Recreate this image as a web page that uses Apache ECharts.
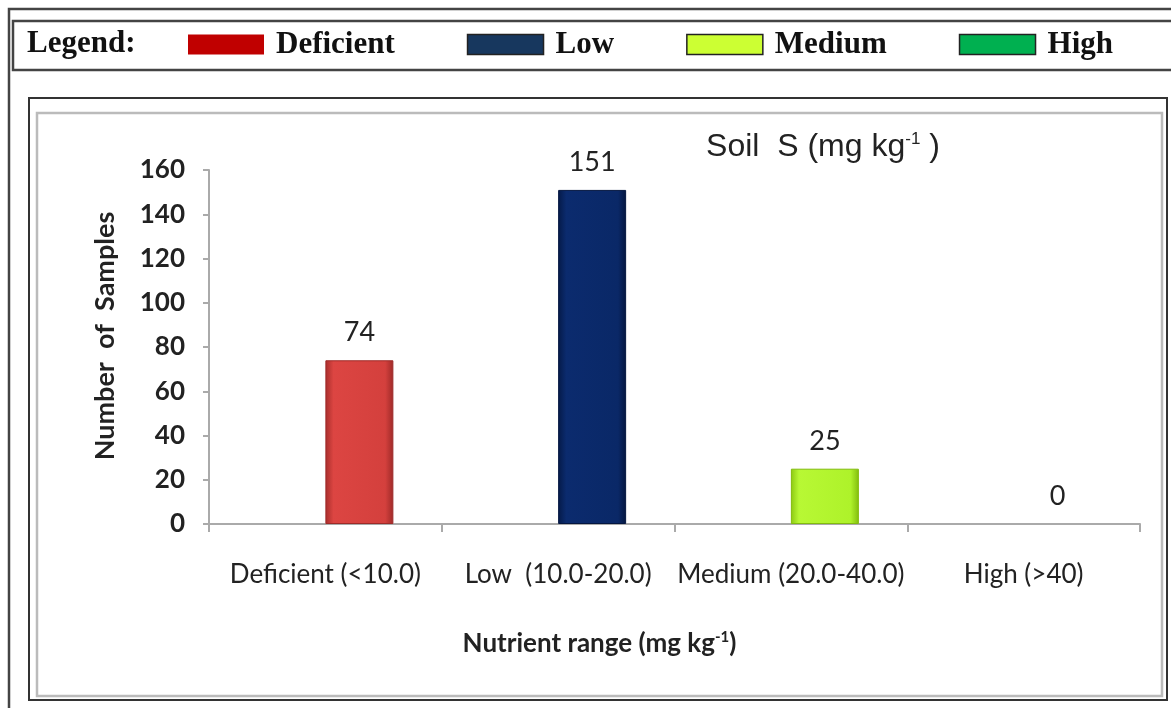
<!DOCTYPE html>
<html>
<head>
<meta charset="utf-8">
<script src="https://cdn.jsdelivr.net/npm/echarts@6/dist/echarts.min.js"></script>
<style>html,body{margin:0;padding:0;background:#fff}#c{width:1171px;height:708px}</style>
</head>
<body>
<div id="c"></div>
<script>
var categories = ['Deficient (<10.0)', 'Low  (10.0-20.0)', 'Medium (20.0-40.0)', 'High (>40)'];
var classNames = ['Deficient', 'Low', 'Medium', 'High'];
var sampleCounts = [74, 151, 25, 0];
var yTicks = [0, 20, 40, 60, 80, 100, 120, 140, 160];
var legendColors = ['#c00000', '#17375e', '#ccff33', '#00b050'];
var barColors = [
  ['#a82e2c', '#dc4542', '#d4403d', '#9e2a28'],
  ['#051a48', '#0b2b6e', '#0a2867', '#041640'],
  ['#8cc812', '#b8f834', '#aef22a', '#82bc0e'],
  ['#00903f', '#00b050', '#00a84c', '#008a3c']
];

var chart = echarts.init(document.getElementById('c'));

function grad(c) {
  return new echarts.graphic.LinearGradient(0, 0, 1, 0, [
    {offset: 0, color: c[0]}, {offset: 0.12, color: c[1]},
    {offset: 0.88, color: c[2]}, {offset: 1, color: c[3]}
  ]);
}

var series = [{
  name: 'placeholder', type: 'bar', barWidth: 68, barGap: '0%',
  data: categories.map(function () { return '-'; }), silent: true
}];
classNames.forEach(function (n, i) {
  series.push({
    name: n, type: 'bar', stack: 'total', barWidth: 68, barGap: '0%',
    data: categories.map(function (c, j) {
      if (j !== i) return '-';
      return {value: sampleCounts[j], itemStyle: {borderWidth: sampleCounts[j] > 0 ? 1 : 0}};
    }),
    itemStyle: {color: grad(barColors[i]), borderColor: barColors[i][3], borderWidth: 1},
    label: {show: true, position: 'top', distance: 14, fontFamily: 'Lato', fontSize: 27, color: '#222'}
  });
});

chart.setOption({
  animation: false,
  backgroundColor: '#fff',
  title: {
    text: '{a|Soil  S (mg kg}{s|-1}{a| )}',
    left: 818, top: 126, textAlign: 'center',
    textStyle: {fontWeight: 'normal', rich: {
      a: {fontFamily: 'Liberation Sans', fontWeight: 'normal', fontSize: 32, color: '#222'},
      s: {fontFamily: 'Liberation Sans', fontWeight: 'normal', fontSize: 17, color: '#222', verticalAlign: 'top', padding: [0, 0, 15, 0]}
    }}
  },
  legend: {
    left: 183, top: 24, itemGap: 72, itemWidth: 76, itemHeight: 20, icon: 'rect',
    selectedMode: false,
    textStyle: {fontFamily: 'Liberation Serif', fontWeight: 'bold', fontSize: 31, color: '#111', padding: [0, 0, 0, 7]},
    data: classNames.map(function (n, i) {
      return {name: n, itemStyle: {color: legendColors[i], borderColor: '#222', borderWidth: i === 0 ? 0 : 1.5}};
    })
  },
  grid: {left: 209, right: 31, top: 170, bottom: 184},
  xAxis: {
    type: 'category', data: categories,
    axisLine: {lineStyle: {color: '#aaa', width: 2}},
    axisTick: {show: true, length: 8, lineStyle: {color: '#aaa', width: 2}},
    axisLabel: {margin: 38, fontFamily: 'Lato', fontSize: 26, color: '#222', interval: 0},
    name: '{a|Nutrient range (mg kg}{s|-1}{a|)}',
    nameLocation: 'middle', nameGap: 106,
    nameTextStyle: {padding: [0, 150, 0, 0], rich: {
      a: {fontFamily: 'Lato', fontWeight: 'bold', fontSize: 26, color: '#222'},
      s: {fontFamily: 'Lato', fontWeight: 'bold', fontSize: 15, color: '#222', verticalAlign: 'top', padding: [0, 0, 12, 0]}
    }}
  },
  yAxis: {
    type: 'value', min: yTicks[0], max: yTicks[yTicks.length - 1], interval: yTicks[1] - yTicks[0],
    splitLine: {show: false},
    axisLine: {show: true, lineStyle: {color: '#aaa', width: 2}},
    axisTick: {show: true, length: 6, lineStyle: {color: '#aaa', width: 2}},
    axisLabel: {margin: 24, fontFamily: 'Lato', fontWeight: 'bold', fontSize: 26, color: '#222'},
    name: 'Number  of  Samples', nameLocation: 'middle', nameGap: 90, nameRotate: 90,
    nameTextStyle: {fontFamily: 'Lato', fontWeight: 'bold', fontSize: 27, color: '#222', padding: [0, 0, 0, 22]}
  },
  graphic: [
    {type: 'rect', shape: {x: 9, y: 9, width: 1200, height: 800}, style: {fill: 'none', stroke: '#444', lineWidth: 2.5}, z: 10},
    {type: 'rect', shape: {x: 13, y: 21, width: 1200, height: 49}, style: {fill: 'none', stroke: '#444', lineWidth: 2.5}, z: 10},
    {type: 'rect', shape: {x: 29, y: 98, width: 1138, height: 602}, style: {fill: 'none', stroke: '#333', lineWidth: 2}, z: 10},
    {type: 'rect', shape: {x: 37, y: 113, width: 1125, height: 583}, style: {fill: 'none', stroke: '#bbb', lineWidth: 2.5}, z: 10},
    {type: 'text', left: 27, top: 28, style: {text: 'Legend:', fontFamily: 'Liberation Serif', fontWeight: 'bold', fontSize: 31, fill: '#111'}, z: 10}
  ],
  series: series
});
</script>
</body>
</html>
